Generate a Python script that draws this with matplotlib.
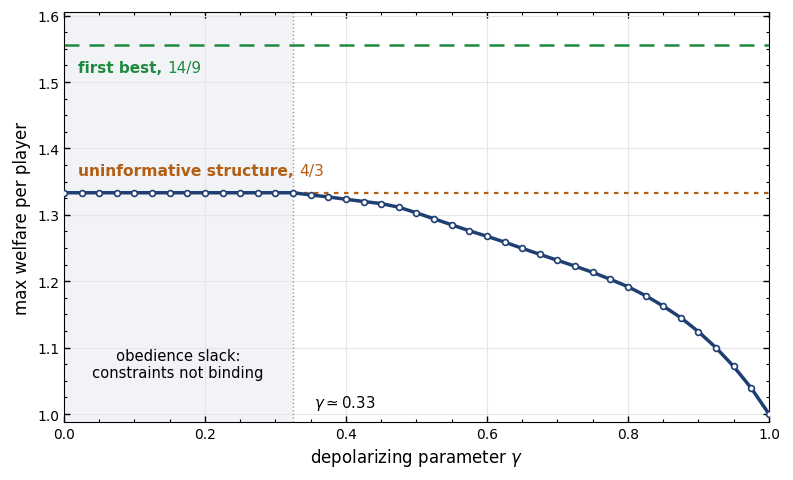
import matplotlib
matplotlib.use("Agg")
import matplotlib.pyplot as plt
import numpy as np

gamma = [i * 0.025 for i in range(41)]
welfare = [4/3] * 14 + [
    1.330, 1.327, 1.3235, 1.3201, 1.317, 1.3115, 1.303, 1.294, 1.285,
    1.276, 1.2677, 1.259, 1.2496, 1.2405, 1.2315, 1.2227, 1.2134, 1.2029,
    1.1918, 1.1783, 1.1626, 1.1451, 1.124, 1.0998, 1.0716, 1.0389, 1.0,
]
first_best = 14/9
uninformative = 4/3
gamma_star = 0.325

navy = "#1f3f73"
green = "#1f8a3f"
orange = "#b35f14"

fig = plt.figure(figsize=(7.93, 4.81), dpi=100)
ax = fig.add_axes([0.0807, 0.1206, 0.889, 0.8524])

ax.axvspan(0, gamma_star, color="#f1f3f7", zorder=0, lw=0)
ax.axvline(gamma_star, color="#999999", ls=":", lw=1.0, zorder=1)
ax.axhline(first_best, color=green, ls=(0, (6, 4)), lw=1.8, zorder=2)
ax.axhline(uninformative, color=orange, ls=(0, (2, 2.5)), lw=1.6, zorder=2)

ax.plot(gamma, welfare, color=navy, lw=2.5, marker="o", ms=4.2,
        mfc="white", mec=navy, mew=1.2, zorder=3)

ax.set_xlim(0, 1)
ax.set_ylim(0.988, 1.6056)
ax.set_xticks([0, 0.2, 0.4, 0.6, 0.8, 1.0])
ax.set_yticks([1.0, 1.1, 1.2, 1.3, 1.4, 1.5, 1.6])
ax.xaxis.set_minor_locator(matplotlib.ticker.MultipleLocator(0.05))
ax.yaxis.set_minor_locator(matplotlib.ticker.MultipleLocator(0.025))
ax.tick_params(which="both", direction="in", top=True, right=True, labelsize=10)
ax.tick_params(which="major", length=4, width=1.0)
ax.tick_params(which="minor", length=2.5, width=0.8)
ax.grid(True, which="major", color="#e6e6e6", lw=0.8, zorder=0)
ax.set_axisbelow(True)

ax.set_xlabel("depolarizing parameter $\\gamma$", fontsize=12)
ax.set_ylabel("max welfare per player", fontsize=12)

t1 = ax.text(0.02, 1.5225, "first best,", color=green, fontsize=11,
             fontweight="bold", va="center", ha="left")
ax.annotate("14/9", xy=(1, 0.5), xycoords=t1, xytext=(4, 0),
            textcoords="offset points", color=green, fontsize=11,
            va="center", ha="left")
t2 = ax.text(0.02, 1.3665, "uninformative structure,", color=orange,
             fontsize=11.2, fontweight="bold", va="center", ha="left")
ax.annotate("4/3", xy=(1, 0.5), xycoords=t2, xytext=(4, 0),
            textcoords="offset points", color=orange, fontsize=11.2,
            va="center", ha="left")

ax.text(0.162, 1.0755, "obedience slack:\nconstraints not binding",
        ha="center", va="center", fontsize=10.6, linespacing=1.15)
ax.text(0.354, 1.0035, "$\\gamma \\simeq 0.33$", ha="left", va="bottom",
        fontsize=10.8)

fig.savefig("out.png", dpi=100)
